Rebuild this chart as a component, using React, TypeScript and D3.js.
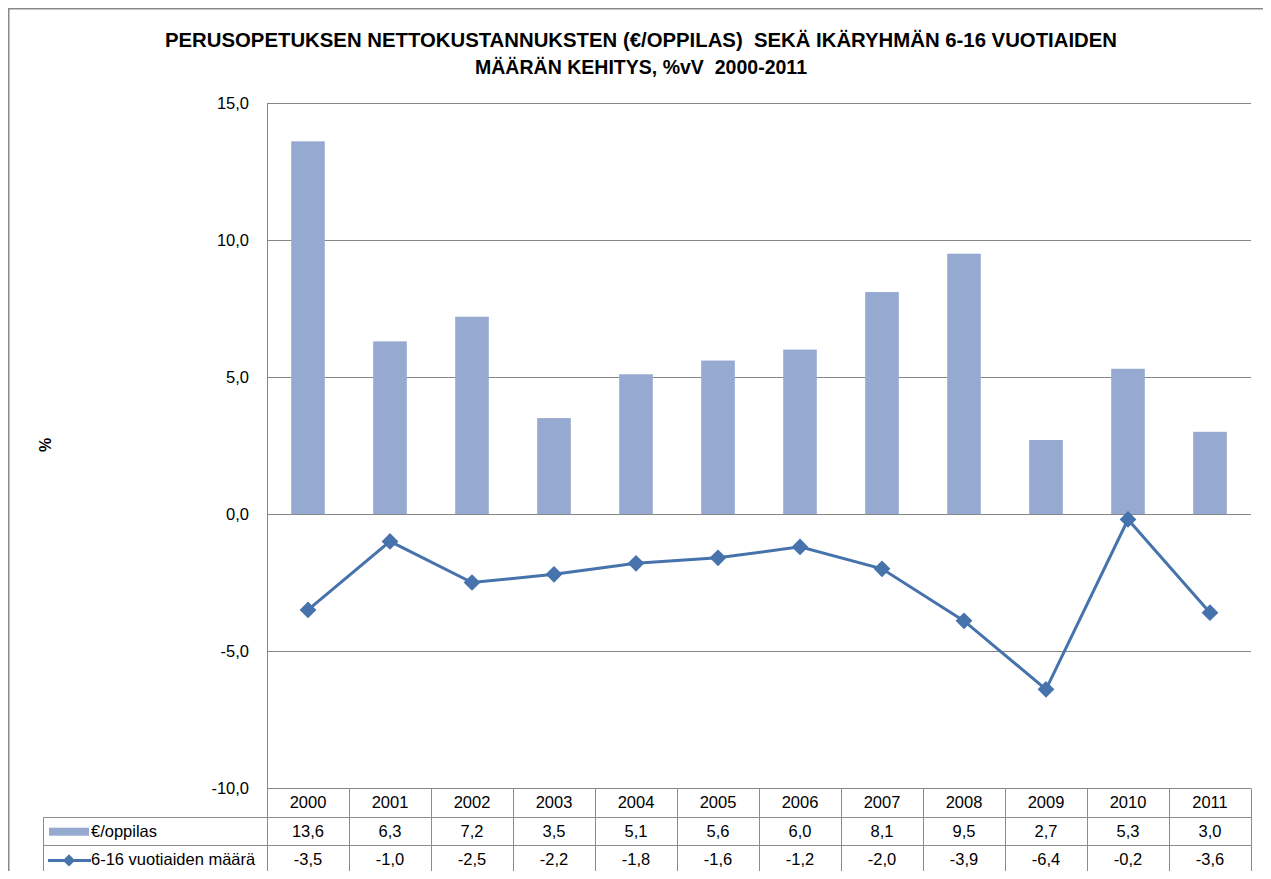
import React, { useRef, useEffect } from "react";
import * as d3 from "d3";

const years = ["2000", "2001", "2002", "2003", "2004", "2005", "2006", "2007", "2008", "2009", "2010", "2011"];
const costPerPupil = [13.6, 6.3, 7.2, 3.5, 5.1, 5.6, 6.0, 8.1, 9.5, 2.7, 5.3, 3.0];
const ageGroupCount = [-3.5, -1.0, -2.5, -2.2, -1.8, -1.6, -1.2, -2.0, -3.9, -6.4, -0.2, -3.6];
const yTicks = [-10, -5, 0, 5, 10, 15];
const seriesNames = ["€/oppilas", "6-16 vuotiaiden määrä"];
const titleLines = [
  "PERUSOPETUKSEN NETTOKUSTANNUKSTEN (€/OPPILAS)  SEKÄ IKÄRYHMÄN 6-16 VUOTIAIDEN",
  "MÄÄRÄN KEHITYS, %vV  2000-2011",
];
const titleWidths = [952, 332];

const fmt = (v: number) => v.toFixed(1).replace(".", ",");

function App() {
  const svgRef = useRef<SVGSVGElement>(null);

  useEffect(() => {
    const width = 1271, height = 879;
    const left = 267, right = 1251, top = 103, bottom = 788;
    const rowH = 28.7;
    const tableLeft = 43;
    const barColor = "#95a9d1";
    const lineColor = "#4673ab";
    const gridColor = "#868686";
    const font = "Liberation Sans, Arial, sans-serif";
    const fs = "16.5px";

    const svg = d3.select(svgRef.current)
      .attr("width", width)
      .attr("height", height)
      .style("font-family", font);
    svg.selectAll("*").remove();

    // outer frame
    svg.append("rect")
      .attr("x", 8.5).attr("y", 8.5)
      .attr("width", width + 20).attr("height", height + 20)
      .attr("fill", "white").attr("stroke", "#888").attr("stroke-width", 2);

    // title
    svg.append("g").selectAll("text")
      .data(titleLines)
      .enter().append("text")
      .attr("x", 641)
      .attr("y", (d, i) => 47 + i * 27)
      .attr("text-anchor", "middle")
      .attr("textLength", (d, i) => titleWidths[i])
      .attr("lengthAdjust", "spacingAndGlyphs")
      .style("white-space", "pre")
      .style("font-size", "20px")
      .style("font-weight", "bold")
      .text(d => d);

    const x = d3.scaleBand().domain(years).range([left, right]);
    const y = d3.scaleLinear().domain([-10, 15]).range([bottom, top]);

    // gridlines
    svg.append("g").selectAll("line")
      .data(yTicks)
      .enter().append("line")
      .attr("x1", left).attr("x2", right)
      .attr("y1", d => Math.round(y(d)) + 0.5).attr("y2", d => Math.round(y(d)) + 0.5)
      .attr("stroke", gridColor).attr("stroke-width", 1);

    // y axis line
    svg.append("line")
      .attr("x1", left + 0.5).attr("x2", left + 0.5)
      .attr("y1", top).attr("y2", bottom)
      .attr("stroke", gridColor);

    // y tick labels
    svg.append("g").selectAll("text")
      .data(yTicks)
      .enter().append("text")
      .attr("x", 249)
      .attr("y", d => y(d) + 6)
      .attr("text-anchor", "end")
      .style("font-size", fs)
      .text(d => fmt(d));

    svg.append("text")
      .attr("transform", "translate(51,445) rotate(-90)")
      .attr("text-anchor", "middle")
      .style("font-size", "16px")
      .style("font-weight", "bold")
      .text("%");

    // bars
    const barW = x.bandwidth() * 0.41;
    svg.append("g").selectAll("rect")
      .data(costPerPupil)
      .enter().append("rect")
      .attr("x", (d, i) => (x(years[i]) as number) + (x.bandwidth() - barW) / 2)
      .attr("y", d => y(Math.max(0, d)))
      .attr("width", barW)
      .attr("height", d => Math.abs(y(d) - y(0)))
      .attr("fill", barColor);

    // line
    const cx = (i: number) => (x(years[i]) as number) + x.bandwidth() / 2;
    const line = d3.line<number>()
      .x((d, i) => cx(i))
      .y(d => y(d));
    svg.append("path")
      .datum(ageGroupCount)
      .attr("d", line)
      .attr("fill", "none")
      .attr("stroke", lineColor)
      .attr("stroke-width", 3);

    const diamond = d3.symbol().type(d3.symbolSquare).size(140);
    svg.append("g").selectAll("path")
      .data(ageGroupCount)
      .enter().append("path")
      .attr("d", diamond)
      .attr("transform", (d, i) => `translate(${cx(i)},${y(d)}) rotate(45)`)
      .attr("fill", lineColor);

    // data table
    const tbl = svg.append("g");
    const tableLines: [number, number, number, number][] = [
      [tableLeft, bottom + rowH, right, bottom + rowH],
      [tableLeft, bottom + rowH * 2, right, bottom + rowH * 2],
      [tableLeft, bottom + rowH * 3, right, bottom + rowH * 3],
      [tableLeft, bottom + rowH, tableLeft, bottom + rowH * 3],
    ];
    years.forEach((yr) => {
      const x0 = x(yr) as number;
      tableLines.push([x0, bottom, x0, bottom + rowH * 3]);
    });
    tableLines.push([right, bottom, right, bottom + rowH * 3]);
    tbl.selectAll("line")
      .data(tableLines)
      .enter().append("line")
      .attr("x1", d => Math.round(d[0]) + 0.5).attr("y1", d => Math.round(d[1]) + 0.5)
      .attr("x2", d => Math.round(d[2]) + 0.5).attr("y2", d => Math.round(d[3]) + 0.5)
      .attr("stroke", "#8c8c8c");

    tbl.append("g").selectAll("text")
      .data(years)
      .enter().append("text")
      .attr("x", d => (x(d) as number) + x.bandwidth() / 2)
      .attr("y", bottom + 20)
      .attr("text-anchor", "middle")
      .style("font-size", fs)
      .text(d => d);

    [costPerPupil, ageGroupCount].forEach((row, r) => {
      tbl.append("g").selectAll("text")
        .data(row)
        .enter().append("text")
        .attr("x", (d, i) => cx(i))
        .attr("y", bottom + rowH * (r + 1) + 20)
        .attr("text-anchor", "middle")
        .style("font-size", fs)
        .text(d => fmt(d));
    });

    // legend keys in table
    tbl.append("rect")
      .attr("x", 49).attr("y", bottom + rowH + 11)
      .attr("width", 40).attr("height", 8)
      .attr("fill", barColor);
    tbl.append("line")
      .attr("x1", 48).attr("x2", 91)
      .attr("y1", bottom + rowH * 2 + 15).attr("y2", bottom + rowH * 2 + 15)
      .attr("stroke", lineColor).attr("stroke-width", 3);
    tbl.append("path")
      .attr("d", d3.symbol().type(d3.symbolSquare).size(75))
      .attr("transform", `translate(69,${bottom + rowH * 2 + 15}) rotate(45)`)
      .attr("fill", lineColor);
    tbl.append("g").selectAll("text")
      .data(seriesNames)
      .enter().append("text")
      .attr("x", 91)
      .attr("y", (d, i) => bottom + rowH * (i + 1) + 20)
      .style("font-size", fs)
      .text(d => d);

    return () => {
      d3.select(svgRef.current).selectAll("*").remove();
    };
  }, []);

  return (
    <div style={{ margin: -8 }}>
      <svg ref={svgRef} style={{ display: "block" }} />
    </div>
  );
}

export default App;
